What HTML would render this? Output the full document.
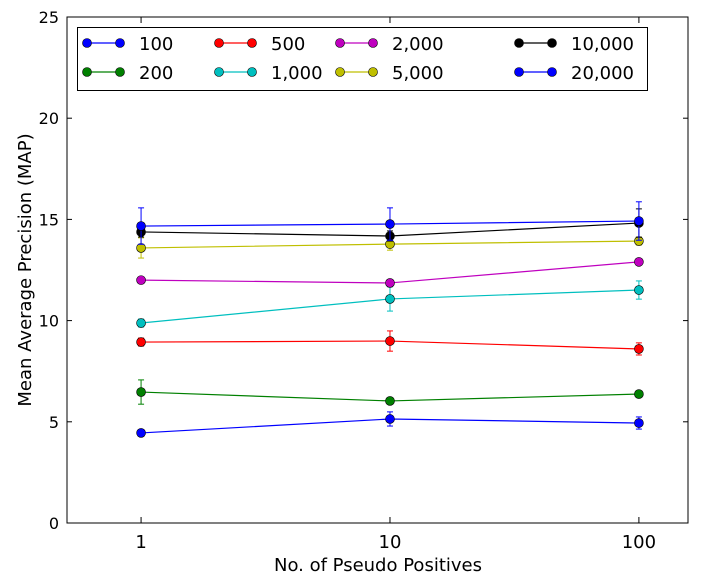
<!DOCTYPE html>
<html><head><meta charset="utf-8"><style>
body{margin:0;background:#fff;}
svg text{font-family:"DejaVu Sans","Liberation Sans",sans-serif;}
</style></head><body>
<svg id="chart" width="702" height="582" xmlns="http://www.w3.org/2000/svg"></svg>
<script>
const xValues=[1,10,100];
const seriesNames=["100","200","500","1,000","2,000","5,000","10,000","20,000"];
const seriesColors=["#0000ff","#008000","#ff0000","#00bfbf","#bf00bf","#bfbf00","#000000","#0000ff"];
const s100=[4.45,5.14,4.94];
const s200=[6.47,6.03,6.37];
const s500=[8.94,8.99,8.6];
const s1000=[9.88,11.07,11.51];
const s2000=[12.0,11.86,12.9];
const s5000=[13.59,13.78,13.93];
const s10000=[14.38,14.18,14.82];
const s20000=[14.67,14.77,14.92];
const e100=[0.1,0.35,0.3];
const e200=[0.6,0.15,0.1];
const e500=[0.2,0.5,0.3];
const e1000=[0.2,0.6,0.45];
const e2000=[0.1,0.1,0.15];
const e5000=[0.5,0.3,0.2];
const e10000=[0.25,0.25,0.7];
const e20000=[0.9,0.8,0.95];
const yTicks=[0,5,10,15,20,25];
const xTicks=[1,10,100];
const seriesVals=[s100,s200,s500,s1000,s2000,s5000,s10000,s20000];
const seriesErr=[e100,e200,e500,e1000,e2000,e5000,e10000,e20000];

const L=67,R=688,T=17,B=523;
const yMin=0,yMax=25;
const xLogMin=Math.log10(0.504),xLogMax=Math.log10(157.5);
const ys=v=>B-(v-yMin)/(yMax-yMin)*(B-T);
const xs=v=>L+(Math.log10(v)-xLogMin)/(xLogMax-xLogMin)*(R-L);
const svg=document.getElementById('chart');
const NS="http://www.w3.org/2000/svg";
function mk(tag,attrs,parent){const e=document.createElementNS(NS,tag);for(const k in attrs)e.setAttribute(k,attrs[k]);(parent||svg).appendChild(e);return e;}

yTicks.forEach(t=>{
  const y=ys(t);
  const g=mk('g',{});
  
  
  mk('line',{x1:L,x2:L+5,y1:y,y2:y,stroke:'#000'},g);
  mk('line',{x1:R,x2:R-5,y1:y,y2:y,stroke:'#000'},g);
  const tx=mk('text',{x:L-8,y:y+6,'text-anchor':'end','font-size':16},g);tx.textContent=t;
});
xTicks.forEach(t=>{
  const x=xs(t);
  const g=mk('g',{});
  
  
  mk('line',{x1:x,x2:x,y1:B,y2:B-6,stroke:'#000'},g);
  mk('line',{x1:x,x2:x,y1:T,y2:T+6,stroke:'#000'},g);
  const tx=mk('text',{x:x,y:B+25,'text-anchor':'middle','font-size':18},g);tx.textContent=t;
});

seriesVals.forEach((vals,i)=>{
  const c=seriesColors[i];
  const g=mk('g',{});
  
  
  mk('polyline',{points:vals.map((v,j)=>xs(xValues[j])+','+ys(v)).join(' '),fill:'none',stroke:c,'stroke-width':1.2},g);
  vals.forEach((v,j)=>{
    const x=xs(xValues[j]),e=seriesErr[i][j];
    mk('line',{x1:x,x2:x,y1:ys(v-e),y2:ys(v+e),stroke:c},g);
    mk('line',{x1:x-3,x2:x+3,y1:ys(v-e),y2:ys(v-e),stroke:c},g);
    mk('line',{x1:x-3,x2:x+3,y1:ys(v+e),y2:ys(v+e),stroke:c},g);
    const p=mk('circle',{cx:x,cy:ys(v),r:4.5,fill:c,stroke:'#000','stroke-width':0.6},g);
    
    
  });
});

const fr=mk('rect',{x:L,y:T,width:R-L,height:B-T,fill:'none',stroke:'#000','stroke-width':1});



const lg=mk('g',{});


mk('rect',{x:77.5,y:27.5,width:570,height:63,fill:'#fff',stroke:'#000'},lg);
const colX=[87,219,340,519];
seriesNames.forEach((n,i)=>{
  const col=Math.floor(i/2),row=i%2;
  const x=colX[col],y=row?72:43;
  const e=mk('g',{},lg);
  
  
  mk('line',{x1:x,x2:x+33,y1:y,y2:y,stroke:seriesColors[i],'stroke-width':1.2},e);
  mk('circle',{cx:x,cy:y,r:4.5,fill:seriesColors[i],stroke:'#000','stroke-width':0.6},e);
  mk('circle',{cx:x+33,cy:y,r:4.5,fill:seriesColors[i],stroke:'#000','stroke-width':0.6},e);
  const t=mk('text',{x:x+52,y:y+7,'font-size':18},e);t.textContent=n;
});

const xt=mk('text',{x:378,y:571,'text-anchor':'middle','font-size':18});
xt.textContent='No. of Pseudo Positives';


const yt=mk('text',{x:0,y:0,'text-anchor':'middle','font-size':18,transform:'translate(31,270) rotate(-90)'});
yt.textContent='Mean Average Precision (MAP)';


</script>
</body></html>
